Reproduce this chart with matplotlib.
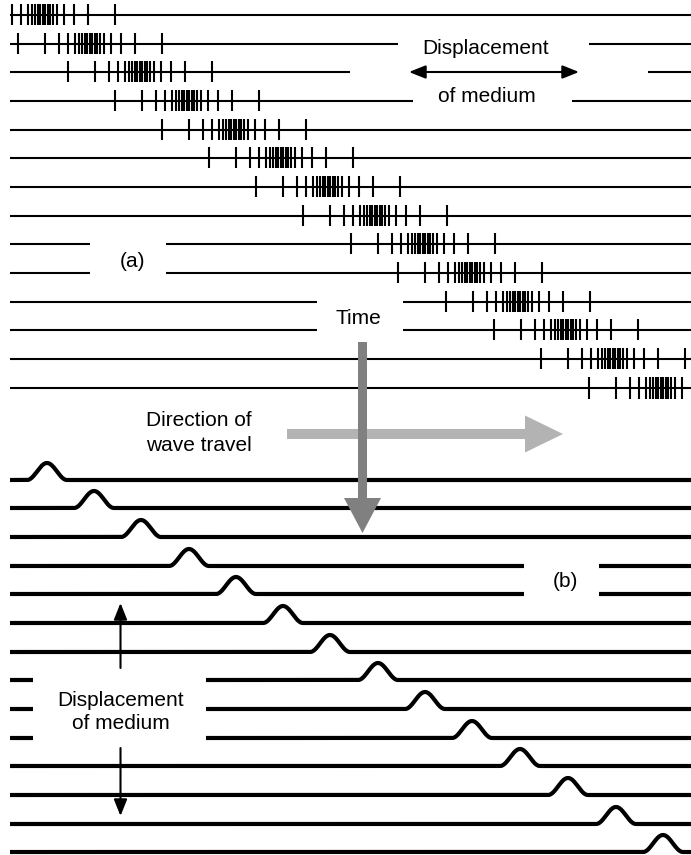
import numpy as np
import matplotlib.pyplot as plt
from matplotlib.patches import FancyArrow

plt.rcParams['font.family'] = ['Liberation Sans', 'DejaVu Sans']

# (a) longitudinal pulse: row heights and pulse centres (px)
a_rows = [15, 44, 72, 101, 130, 158, 187, 216, 244, 273, 302, 330, 359, 388]
a_centers = [43, 90, 140, 187, 234, 281, 328, 375, 423, 470, 518, 566, 613, 661]
# tick offsets around the compression centre
a_ticks = [-72, -45, -31, -21.5, -14.5, -10.5, -7.5, -5, -2.5, 0,
           2.5, 5, 7.5, 10.5, 14.5, 21.5, 31, 45, 72]

# (b) transverse pulse
b_rows = [480, 508, 537, 566, 594, 623, 652, 680, 709, 738, 766, 795, 824, 852]
b_centers = [47, 94, 141, 189, 236, 283, 330, 378, 425, 472, 520, 568, 616, 663]
bump_h = 17
bump_w = 20

# gaps in rows left open for labels: row index -> (gap start, gap end)
a_gaps = {1: (398, 589), 2: (350, 648), 3: (413, 572),
          8: (90, 166), 9: (90, 166), 10: (317, 403), 11: (317, 403)}
b_gaps = {3: (524, 599), 4: (524, 599),
          7: (33, 206), 8: (33, 206), 9: (33, 206)}

X0, X1 = 10, 691

fig = plt.figure(figsize=(6.91, 8.55), dpi=100)
ax = fig.add_axes([0, 0, 1, 1])
ax.set_xlim(0, 691)
ax.set_ylim(855, 0)
ax.axis('off')


def segs(i, gaps):
    if i in gaps:
        g0, g1 = gaps[i]
        return [(X0, g0), (g1, X1)]
    return [(X0, X1)]


# (a)
for i, (y, c) in enumerate(zip(a_rows, a_centers)):
    for s0, s1 in segs(i, a_gaps):
        ax.plot([s0, s1], [y, y], color='black', lw=1.5, solid_capstyle='butt')
    xs = [c + t for t in a_ticks if X0 <= c + t <= X1]
    ax.vlines(xs, y - 10.5, y + 10.5, color='black', lw=1.5)

# (b)
for i, (y, c) in enumerate(zip(b_rows, b_centers)):
    for s0, s1 in segs(i, b_gaps):
        x = np.linspace(s0, s1, 1400)
        d = x - c
        bump = np.where(np.abs(d) < bump_w, bump_h * (1 + np.cos(np.pi * d / bump_w)) / 2, 0)
        ax.plot(x, y - bump, color='black', lw=3.0, solid_capstyle='butt')

fs = 15
# labels (a)
ax.text(486, 48, 'Displacement', fontsize=fs, ha='center', va='center')
ax.text(487, 97, 'of medium', fontsize=fs, ha='center', va='center')
ax.annotate('', xy=(409, 72), xytext=(579, 72),
            arrowprops=dict(arrowstyle='<|-|>,head_length=1.0,head_width=0.4',
                            color='black', lw=1.5, shrinkA=0, shrinkB=0))
ax.text(133, 261, '(a)', fontsize=fs, ha='center', va='center')
ax.text(358, 318, 'Time', fontsize=fs, ha='center', va='center')

# wave travel / time arrows
ax.text(252, 420, 'Direction of', fontsize=fs, ha='right', va='center')
ax.text(252, 445, 'wave travel', fontsize=fs, ha='right', va='center')
ax.add_patch(FancyArrow(287, 434, 276, 0, width=10, head_width=37, head_length=38,
                        length_includes_head=True, color='#b3b3b3', lw=0, zorder=3))
ax.add_patch(FancyArrow(362.5, 342, 0, 191, width=9, head_width=37, head_length=35,
                        length_includes_head=True, color='#808080', lw=0, zorder=4))

# labels (b)
ax.text(565, 581, '(b)', fontsize=fs, ha='center', va='center')
ax.text(121, 700, 'Displacement', fontsize=fs, ha='center', va='center')
ax.text(121, 723, 'of medium', fontsize=fs, ha='center', va='center')
ax.annotate('', xy=(120.5, 603), xytext=(120.5, 668),
            arrowprops=dict(arrowstyle='-|>,head_length=1.0,head_width=0.4',
                            color='black', lw=1.5, shrinkA=0, shrinkB=0))
ax.annotate('', xy=(120.5, 816), xytext=(120.5, 748),
            arrowprops=dict(arrowstyle='-|>,head_length=1.0,head_width=0.4',
                            color='black', lw=1.5, shrinkA=0, shrinkB=0))

fig.savefig('out.png', dpi=100)
